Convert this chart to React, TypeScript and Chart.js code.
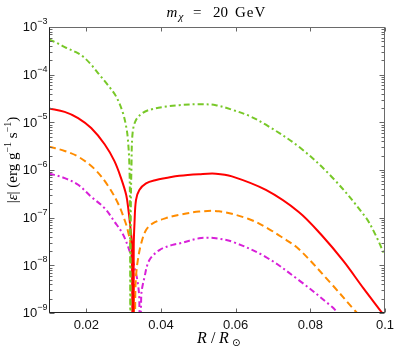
import React, { useEffect, useRef } from 'react';
import { Chart, registerables } from 'chart.js';
Chart.register(...registerables);

// ---- data ----
const X_GREEN = [0.0100, 0.0125, 0.0147, 0.0170, 0.0191, 0.0213, 0.0235, 0.0258, 0.0280, 0.0298, 0.0307, 0.0311, 0.0315, 0.0317, 0.0318, 0.0319, 0.0321, 0.0324, 0.0333, 0.0351, 0.0378, 0.0413, 0.0449, 0.0502, 0.0547, 0.0590, 0.0635, 0.0681, 0.0769, 0.0857, 0.0947, 0.0974, 0.1000];
const Y_GREEN = [5.50e-4, 4.47e-4, 3.63e-4, 3.02e-4, 2.40e-4, 1.62e-4, 1.00e-4, 6.03e-5, 3.47e-5, 1.58e-5, 7.94e-6, 4.68e-6, 1.51e-6, 1.58e-7, 1e-12, 1.0e-7, 1.26e-6, 6.03e-6, 1.12e-5, 1.58e-5, 1.91e-5, 2.14e-5, 2.29e-5, 2.40e-5, 2.29e-5, 1.84e-5, 1.38e-5, 8.91e-6, 3.09e-6, 7.24e-7, 1.05e-7, 4.47e-8, 1.58e-8];

const X_RED = [0.0100, 0.0142, 0.0178, 0.0213, 0.0249, 0.0275, 0.0293, 0.0307, 0.0313, 0.0318, 0.0322, 0.0325, 0.0327, 0.0329, 0.0333, 0.0342, 0.0360, 0.0387, 0.0413, 0.0449, 0.0502, 0.0547, 0.0590, 0.0681, 0.0769, 0.0830, 0.0889, 0.0942, 0.0993, 0.1000];
const Y_RED = [1.95e-5, 1.66e-5, 1.23e-5, 7.59e-6, 3.47e-6, 1.55e-6, 6.76e-7, 2.95e-7, 1.41e-7, 6.31e-8, 2.82e-8, 1e-12, 2.51e-8, 7.59e-8, 2.34e-7, 3.80e-7, 5.25e-7, 6.17e-7, 6.76e-7, 7.59e-7, 8.18e-7, 8.38e-7, 7.36e-7, 3.82e-7, 1.32e-7, 4.32e-8, 1.22e-8, 3.32e-9, 9.9e-10, 8.3e-10];

const X_ORANGE = [0.0100, 0.0142, 0.0178, 0.0222, 0.0258, 0.0286, 0.0304, 0.0312, 0.0320, 0.0324, 0.0327, 0.0329, 0.0331, 0.0333, 0.0338, 0.0347, 0.0360, 0.0378, 0.0413, 0.0449, 0.0502, 0.0555, 0.0635, 0.0689, 0.0723, 0.0769, 0.0857, 0.0921, 0.0945];
const Y_ORANGE = [3.09e-6, 2.51e-6, 1.91e-6, 1.05e-6, 4.68e-7, 1.91e-7, 8.32e-8, 5.01e-8, 2.45e-8, 1.10e-8, 3.98e-9, 1e-12, 2.0e-9, 5.75e-9, 1.29e-8, 2.88e-8, 5.50e-8, 7.59e-8, 9.77e-8, 1.15e-7, 1.34e-7, 1.36e-7, 9.40e-8, 5.78e-8, 3.93e-8, 2.20e-8, 4.04e-9, 1.09e-9, 7.2e-10];

const X_MAGENTA = [0.0100, 0.0142, 0.0178, 0.0213, 0.0249, 0.0275, 0.0298, 0.0315, 0.0329, 0.0338, 0.0342, 0.0344, 0.0347, 0.0356, 0.0369, 0.0396, 0.0431, 0.0449, 0.0502, 0.0525, 0.0547, 0.0591, 0.0680, 0.0769, 0.0858, 0.0875, 0.0892];
const Y_MAGENTA = [8.51e-7, 6.76e-7, 4.90e-7, 2.75e-7, 1.58e-7, 8.32e-8, 4.47e-8, 2.09e-8, 9.33e-9, 4.17e-9, 1.86e-9, 1e-12, 2.19e-9, 5.75e-9, 1.29e-8, 2.09e-8, 2.69e-8, 2.88e-8, 3.69e-8, 3.80e-8, 3.69e-8, 3.13e-8, 1.51e-8, 4.90e-9, 1.35e-9, 9.8e-10, 7.2e-10];

const X_TICKS = [0.02, 0.04, 0.06, 0.08, 0.1];
const Y_DECADES = [-9, -8, -7, -6, -5, -4, -3];

const pts = (xs: number[], ys: number[]) => xs.map((x, i) => ({ x, y: ys[i] }));

const SERIF = '"Liberation Serif", "DejaVu Serif", serif';
const SANS = '"Liberation Sans", Arial, sans-serif';

const decor = {
  id: 'decor',
  afterDraw(chart: any) {
    const { ctx, chartArea: a, scales } = chart;
    const xs = scales.x, ys = scales.y;
    ctx.save();
    const L = Math.round(a.left) + 0.5;
    const R = Math.round(a.right) - 0.5;
    const T = Math.round(a.top) + 0.5;
    const B = Math.round(a.bottom) - 0.5;

    // ticks
    ctx.strokeStyle = '#666';
    ctx.lineWidth = 1;
    ctx.beginPath();
    for (let di = 0; di < Y_DECADES.length; di++) {
      const d = Y_DECADES[di];
      const py = Math.round(ys.getPixelForValue(Math.pow(10, d))) + 0.5;
      ctx.moveTo(L, py); ctx.lineTo(L + 5, py);
      ctx.moveTo(R, py); ctx.lineTo(R - 5, py);
      if (d < -3) {
        for (let k = 2; k <= 9; k++) {
          const p = Math.round(ys.getPixelForValue(k * Math.pow(10, d))) + 0.5;
          ctx.moveTo(L, p); ctx.lineTo(L + 3, p);
          ctx.moveTo(R, p); ctx.lineTo(R - 3, p);
        }
      }
    }
    for (const v of X_TICKS) {
      const px = Math.round(xs.getPixelForValue(v)) + 0.5;
      ctx.moveTo(px, B); ctx.lineTo(px, B - 4);
      ctx.moveTo(px, T); ctx.lineTo(px, T + 4);
    }
    ctx.stroke();

    // frame
    ctx.strokeStyle = '#6a6a6a';
    ctx.strokeRect(L, T, R - L, B - T);
    ctx.strokeStyle = '#222';
    ctx.beginPath();
    ctx.moveTo(L, T); ctx.lineTo(L, B); ctx.lineTo(R, B);
    ctx.stroke();

    // y tick labels: 10^d
    ctx.fillStyle = '#111';
    for (const d of Y_DECADES) {
      const py = ys.getPixelForValue(Math.pow(10, d));
      const sup = '\u2212' + String(-d);
      ctx.font = `9px ${SANS}`;
      const ws = ctx.measureText(sup).width;
      const supX = 47.5 - ws;
      ctx.textBaseline = 'middle';
      ctx.textAlign = 'left';
      ctx.fillText(sup, supX, py - 5.5);
      ctx.font = `13px ${SANS}`;
      ctx.textAlign = 'right';
      ctx.fillText('10', supX, py + 0.8);
    }

    // title: m_chi = 20 GeV
    ctx.fillStyle = '#000';
    ctx.textAlign = 'left';
    ctx.textBaseline = 'alphabetic';
    const tb = 17;
    ctx.font = `italic 15px ${SERIF}`;
    ctx.fillText('m', 166.5, tb);
    ctx.font = `italic 11px ${SERIF}`;
    ctx.fillText('\u03c7', 178.5, tb + 3);
    ctx.font = `15px ${SERIF}`;
    ctx.fillText('=', 193, tb);
    ctx.fillText('20', 213, tb);
    (ctx as any).letterSpacing = '1px';
    ctx.fillText('GeV', 235, tb);
    (ctx as any).letterSpacing = '0px';

    // x label: R / R_sun
    const xb = 343;
    ctx.font = `italic 16px ${SERIF}`;
    ctx.fillText('R', 197, xb);
    ctx.font = `16px ${SERIF}`;
    ctx.fillText('/', 211, xb);
    ctx.font = `italic 16px ${SERIF}`;
    ctx.fillText('R', 219, xb);
    ctx.font = `10px "DejaVu Sans", sans-serif`;
    ctx.fillText('\u2299', 232, xb + 3);

    // y label: |eps| (erg g^-1 s^-1)
    const segs: [string, string, number][] = [
      ['|', `15px ${SERIF}`, 0],
      ['\u03b5', `italic 15px ${SERIF}`, 0],
      ['|', `15px ${SERIF}`, 0],
      [' (erg g', `15px ${SERIF}`, 0],
      ['\u22121', `10px ${SERIF}`, -6],
      [' s', `15px ${SERIF}`, 0],
      ['\u22121', `10px ${SERIF}`, -6],
      [')', `15px ${SERIF}`, 0],
    ];
    let total = 0;
    const widths: number[] = [];
    for (const [t, f] of segs) { ctx.font = f; const w = ctx.measureText(t).width; widths.push(w); total += w; }
    ctx.translate(16.5, 160);
    ctx.rotate(-Math.PI / 2);
    let cx = -total / 2;
    segs.forEach(([t, f, dy], i) => {
      ctx.font = f;
      ctx.fillText(t, cx, dy);
      cx += widths[i];
    });
    ctx.restore();
  },
};

export default function App() {
  const ref = useRef<HTMLCanvasElement | null>(null);
  useEffect(() => {
    if (!ref.current) return;
    const mk = (label: string, xs: number[], ys: number[], color: string, dash: number[]) => ({
      label,
      data: pts(xs, ys),
      borderColor: color,
      backgroundColor: color,
      borderWidth: 2,
      borderDash: dash,
      pointRadius: 0,
      tension: 0.35,
      fill: false,
      clip: 0,
    });
    const chart = new Chart(ref.current, {
      type: 'line',
      data: {
        datasets: [
          mk('green', X_GREEN, Y_GREEN, '#78c828', [6, 3, 2, 3]),
          mk('red', X_RED, Y_RED, '#ff0000', []),
          mk('orange', X_ORANGE, Y_ORANGE, '#ff8c00', [7, 4]),
          mk('magenta', X_MAGENTA, Y_MAGENTA, '#d820d8', [6, 3, 2, 3]),
        ],
      },
      options: {
        responsive: false,
        animation: false,
        devicePixelRatio: 1,
        layout: { padding: { top: 27, right: 13, left: 0, bottom: 0 } },
        plugins: { legend: { display: false }, tooltip: { enabled: false }, title: { display: false } },
        scales: {
          x: {
            type: 'linear',
            min: 0.01,
            max: 0.1,
            grid: { display: false, drawTicks: false },
            border: { display: false },
            ticks: {
              autoSkip: false,
              maxRotation: 0,
              padding: 5,
              color: '#111',
              font: { family: SANS, size: 13 },
              callback: (v: any) => String(Number(v)),
            },
            afterBuildTicks: (s: any) => { s.ticks = X_TICKS.map((v) => ({ value: v })); },
            afterFit: (s: any) => { s.height = 37; },
          },
          y: {
            type: 'logarithmic',
            min: 1e-9,
            max: 1e-3,
            grid: { display: false, drawTicks: false },
            border: { display: false },
            ticks: { display: false },
            afterFit: (s: any) => { s.width = 49; },
          },
        },
      },
      plugins: [decor],
    });
    return () => chart.destroy();
  }, []);
  return (
    <div style={{ position: 'fixed', left: 0, top: 0, width: 399, height: 350, background: '#fff' }}>
      <canvas ref={ref} width={399} height={350} style={{ display: 'block' }} />
    </div>
  );
}
